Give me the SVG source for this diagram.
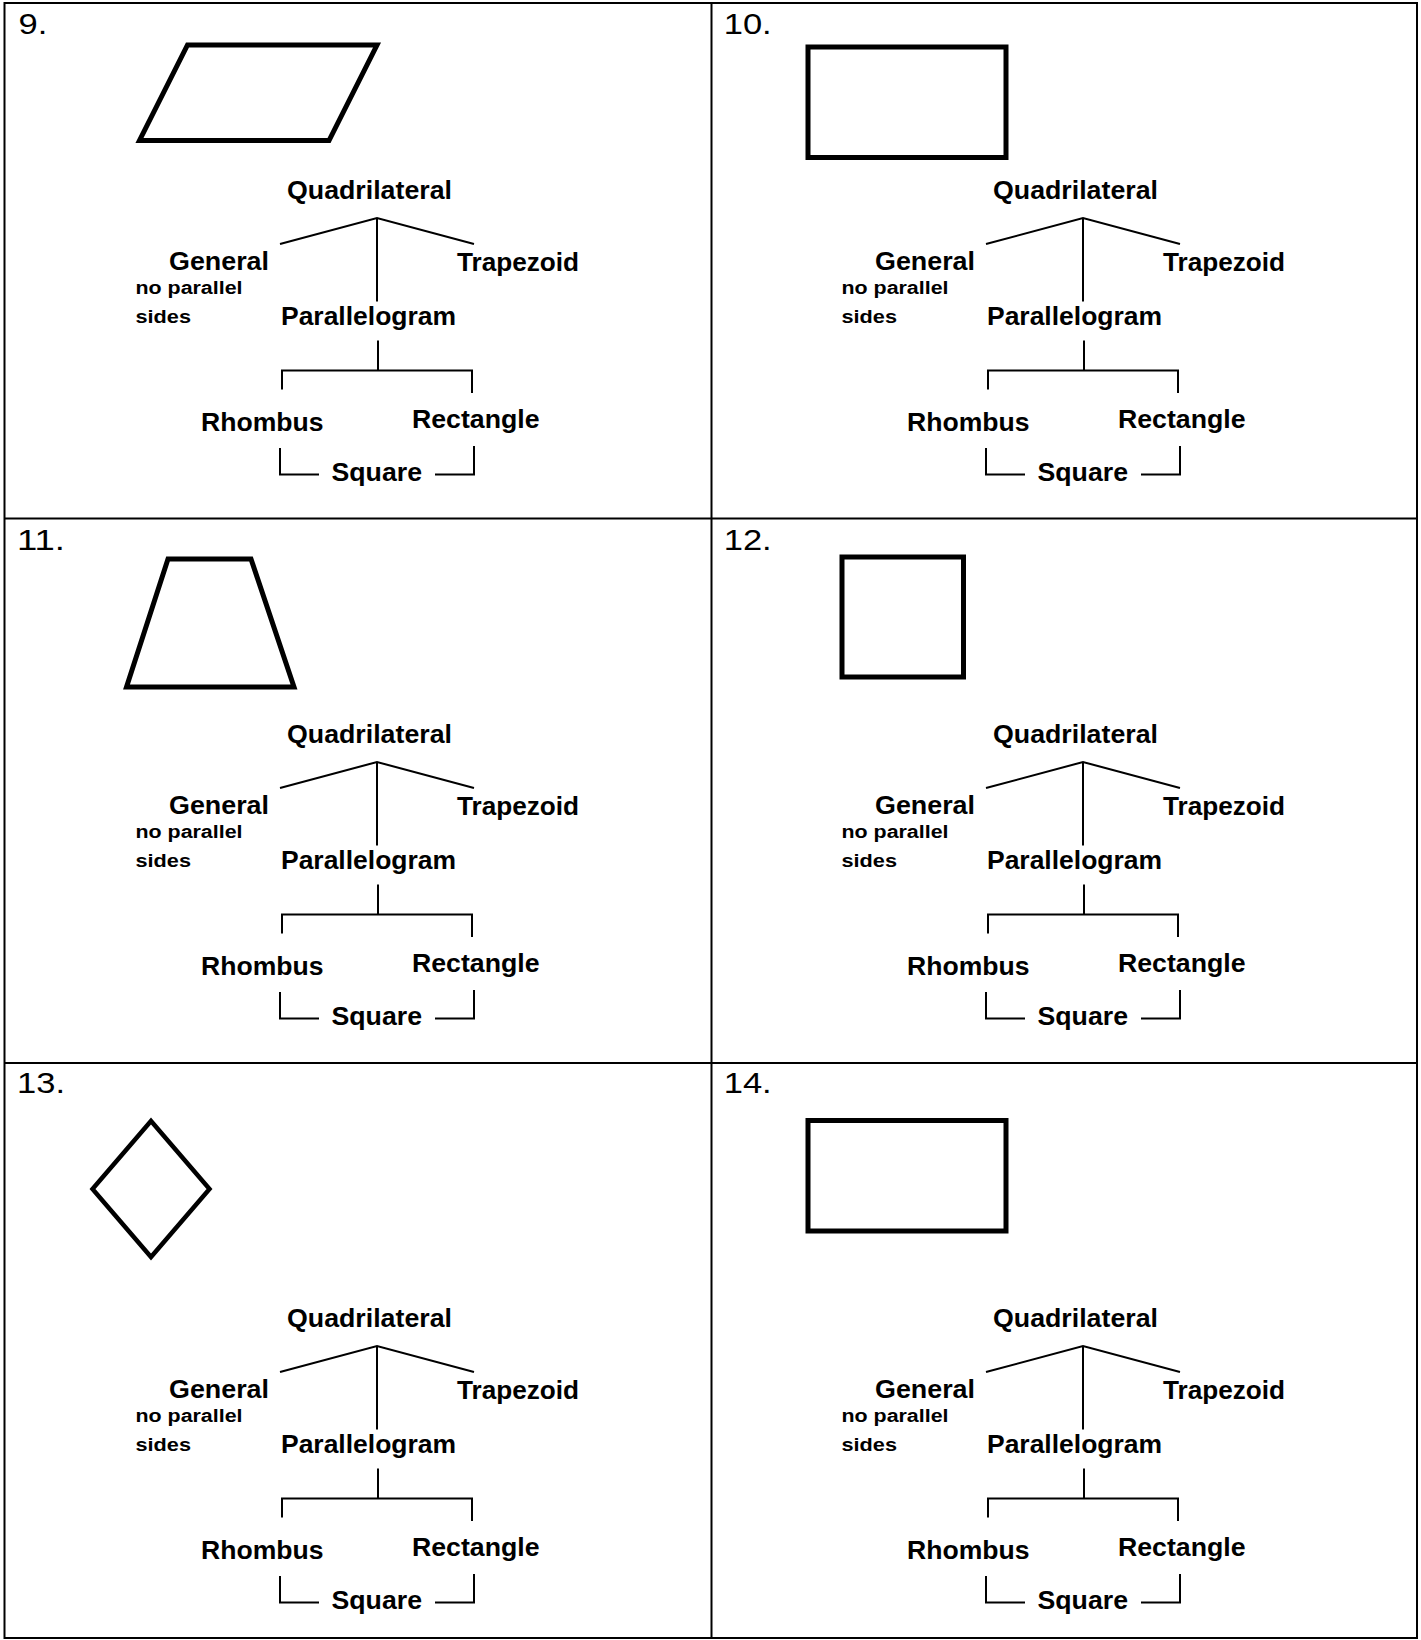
<svg xmlns="http://www.w3.org/2000/svg" width="1421" height="1640" viewBox="0 0 1421 1640">
<style>
.lbl{font-family:"Liberation Sans",Arial,sans-serif;font-weight:bold;font-size:25px;fill:#000}
.sm{font-size:18px}
.num{font-family:"Liberation Sans",Arial,sans-serif;font-size:30px;fill:#000}
.conn{fill:none;stroke:#000;stroke-width:2}
.shape{fill:none;stroke:#000;stroke-width:5;stroke-linejoin:miter}
.grid{fill:none;stroke:#000;stroke-width:2}
</style>
<rect width="1421" height="1640" fill="#fff"/>
<g id="grid" class="grid">
<rect x="4.5" y="3" width="1412.5" height="1635"/>
<path d="M711.5,3 V1638 M4.5,518.5 H1417 M4.5,1063 H1417"/>
</g>
<g id="numbers">
<text class="num" x="18.5" y="33.5" textLength="28.8" lengthAdjust="spacingAndGlyphs">9.</text>
<text class="num" x="723.7" y="33.5" textLength="48" lengthAdjust="spacingAndGlyphs">10.</text>
<text class="num" x="17" y="550" textLength="48" lengthAdjust="spacingAndGlyphs">11.</text>
<text class="num" x="723.7" y="550" textLength="48" lengthAdjust="spacingAndGlyphs">12.</text>
<text class="num" x="17" y="1093" textLength="48" lengthAdjust="spacingAndGlyphs">13.</text>
<text class="num" x="723.7" y="1093" textLength="48" lengthAdjust="spacingAndGlyphs">14.</text>
</g>
<g id="shapes" class="shape">
<polygon id="shape9" points="187.5,45 377,45 329,140.5 139.5,140.5"/>
<rect id="shape10" x="808" y="47" width="198" height="110.5"/>
<polygon id="shape11" points="168,559 251,559 294,687 126.5,687"/>
<rect id="shape12" x="842" y="557" width="121.5" height="120"/>
<polygon id="shape13" points="151,1121 209.5,1189 151,1257 92.5,1189" style="stroke-width:4.5"/>
<rect id="shape14" x="808" y="1120.5" width="198" height="110.5"/>
</g>

<g id="p9" transform="translate(0,0)">
<g id="p9-connectors" class="conn">
<path d="M280,244 L377,218 L474,244"/><path d="M377,218 V301.5"/><path d="M378,340.5 V370.5"/>
<path d="M282,389.5 V370.5 H472 V393"/><path d="M280,448 V474.5 H319"/><path d="M435,474.5 H474 V446"/>
</g>
<g id="p9-quadrilateral"><text class="lbl" x="287" y="199" textLength="165" lengthAdjust="spacingAndGlyphs">Quadrilateral</text></g>
<g id="p9-general"><text class="lbl" x="169" y="270" textLength="100" lengthAdjust="spacingAndGlyphs">General</text><text class="lbl sm" x="135.5" y="294" textLength="107" lengthAdjust="spacingAndGlyphs">no parallel</text><text class="lbl sm" x="135.5" y="323" textLength="55.5" lengthAdjust="spacingAndGlyphs">sides</text></g>
<g id="p9-trapezoid"><text class="lbl" x="457" y="271" textLength="122" lengthAdjust="spacingAndGlyphs">Trapezoid</text></g>
<g id="p9-parallelogram"><text class="lbl" x="281" y="325" textLength="175" lengthAdjust="spacingAndGlyphs">Parallelogram</text></g>
<g id="p9-rhombus"><text class="lbl" x="201" y="431" textLength="122.5" lengthAdjust="spacingAndGlyphs">Rhombus</text></g>
<g id="p9-rectangle"><text class="lbl" x="412" y="428" textLength="127.5" lengthAdjust="spacingAndGlyphs">Rectangle</text></g>
<g id="p9-square"><text class="lbl" x="331.5" y="480.5" textLength="90.5" lengthAdjust="spacingAndGlyphs">Square</text></g>
</g>

<g id="p10" transform="translate(706,0)">
<g id="p10-connectors" class="conn">
<path d="M280,244 L377,218 L474,244"/><path d="M377,218 V301.5"/><path d="M378,340.5 V370.5"/>
<path d="M282,389.5 V370.5 H472 V393"/><path d="M280,448 V474.5 H319"/><path d="M435,474.5 H474 V446"/>
</g>
<g id="p10-quadrilateral"><text class="lbl" x="287" y="199" textLength="165" lengthAdjust="spacingAndGlyphs">Quadrilateral</text></g>
<g id="p10-general"><text class="lbl" x="169" y="270" textLength="100" lengthAdjust="spacingAndGlyphs">General</text><text class="lbl sm" x="135.5" y="294" textLength="107" lengthAdjust="spacingAndGlyphs">no parallel</text><text class="lbl sm" x="135.5" y="323" textLength="55.5" lengthAdjust="spacingAndGlyphs">sides</text></g>
<g id="p10-trapezoid"><text class="lbl" x="457" y="271" textLength="122" lengthAdjust="spacingAndGlyphs">Trapezoid</text></g>
<g id="p10-parallelogram"><text class="lbl" x="281" y="325" textLength="175" lengthAdjust="spacingAndGlyphs">Parallelogram</text></g>
<g id="p10-rhombus"><text class="lbl" x="201" y="431" textLength="122.5" lengthAdjust="spacingAndGlyphs">Rhombus</text></g>
<g id="p10-rectangle"><text class="lbl" x="412" y="428" textLength="127.5" lengthAdjust="spacingAndGlyphs">Rectangle</text></g>
<g id="p10-square"><text class="lbl" x="331.5" y="480.5" textLength="90.5" lengthAdjust="spacingAndGlyphs">Square</text></g>
</g>

<g id="p11" transform="translate(0,544)">
<g id="p11-connectors" class="conn">
<path d="M280,244 L377,218 L474,244"/><path d="M377,218 V301.5"/><path d="M378,340.5 V370.5"/>
<path d="M282,389.5 V370.5 H472 V393"/><path d="M280,448 V474.5 H319"/><path d="M435,474.5 H474 V446"/>
</g>
<g id="p11-quadrilateral"><text class="lbl" x="287" y="199" textLength="165" lengthAdjust="spacingAndGlyphs">Quadrilateral</text></g>
<g id="p11-general"><text class="lbl" x="169" y="270" textLength="100" lengthAdjust="spacingAndGlyphs">General</text><text class="lbl sm" x="135.5" y="294" textLength="107" lengthAdjust="spacingAndGlyphs">no parallel</text><text class="lbl sm" x="135.5" y="323" textLength="55.5" lengthAdjust="spacingAndGlyphs">sides</text></g>
<g id="p11-trapezoid"><text class="lbl" x="457" y="271" textLength="122" lengthAdjust="spacingAndGlyphs">Trapezoid</text></g>
<g id="p11-parallelogram"><text class="lbl" x="281" y="325" textLength="175" lengthAdjust="spacingAndGlyphs">Parallelogram</text></g>
<g id="p11-rhombus"><text class="lbl" x="201" y="431" textLength="122.5" lengthAdjust="spacingAndGlyphs">Rhombus</text></g>
<g id="p11-rectangle"><text class="lbl" x="412" y="428" textLength="127.5" lengthAdjust="spacingAndGlyphs">Rectangle</text></g>
<g id="p11-square"><text class="lbl" x="331.5" y="480.5" textLength="90.5" lengthAdjust="spacingAndGlyphs">Square</text></g>
</g>

<g id="p12" transform="translate(706,544)">
<g id="p12-connectors" class="conn">
<path d="M280,244 L377,218 L474,244"/><path d="M377,218 V301.5"/><path d="M378,340.5 V370.5"/>
<path d="M282,389.5 V370.5 H472 V393"/><path d="M280,448 V474.5 H319"/><path d="M435,474.5 H474 V446"/>
</g>
<g id="p12-quadrilateral"><text class="lbl" x="287" y="199" textLength="165" lengthAdjust="spacingAndGlyphs">Quadrilateral</text></g>
<g id="p12-general"><text class="lbl" x="169" y="270" textLength="100" lengthAdjust="spacingAndGlyphs">General</text><text class="lbl sm" x="135.5" y="294" textLength="107" lengthAdjust="spacingAndGlyphs">no parallel</text><text class="lbl sm" x="135.5" y="323" textLength="55.5" lengthAdjust="spacingAndGlyphs">sides</text></g>
<g id="p12-trapezoid"><text class="lbl" x="457" y="271" textLength="122" lengthAdjust="spacingAndGlyphs">Trapezoid</text></g>
<g id="p12-parallelogram"><text class="lbl" x="281" y="325" textLength="175" lengthAdjust="spacingAndGlyphs">Parallelogram</text></g>
<g id="p12-rhombus"><text class="lbl" x="201" y="431" textLength="122.5" lengthAdjust="spacingAndGlyphs">Rhombus</text></g>
<g id="p12-rectangle"><text class="lbl" x="412" y="428" textLength="127.5" lengthAdjust="spacingAndGlyphs">Rectangle</text></g>
<g id="p12-square"><text class="lbl" x="331.5" y="480.5" textLength="90.5" lengthAdjust="spacingAndGlyphs">Square</text></g>
</g>

<g id="p13" transform="translate(0,1128)">
<g id="p13-connectors" class="conn">
<path d="M280,244 L377,218 L474,244"/><path d="M377,218 V301.5"/><path d="M378,340.5 V370.5"/>
<path d="M282,389.5 V370.5 H472 V393"/><path d="M280,448 V474.5 H319"/><path d="M435,474.5 H474 V446"/>
</g>
<g id="p13-quadrilateral"><text class="lbl" x="287" y="199" textLength="165" lengthAdjust="spacingAndGlyphs">Quadrilateral</text></g>
<g id="p13-general"><text class="lbl" x="169" y="270" textLength="100" lengthAdjust="spacingAndGlyphs">General</text><text class="lbl sm" x="135.5" y="294" textLength="107" lengthAdjust="spacingAndGlyphs">no parallel</text><text class="lbl sm" x="135.5" y="323" textLength="55.5" lengthAdjust="spacingAndGlyphs">sides</text></g>
<g id="p13-trapezoid"><text class="lbl" x="457" y="271" textLength="122" lengthAdjust="spacingAndGlyphs">Trapezoid</text></g>
<g id="p13-parallelogram"><text class="lbl" x="281" y="325" textLength="175" lengthAdjust="spacingAndGlyphs">Parallelogram</text></g>
<g id="p13-rhombus"><text class="lbl" x="201" y="431" textLength="122.5" lengthAdjust="spacingAndGlyphs">Rhombus</text></g>
<g id="p13-rectangle"><text class="lbl" x="412" y="428" textLength="127.5" lengthAdjust="spacingAndGlyphs">Rectangle</text></g>
<g id="p13-square"><text class="lbl" x="331.5" y="480.5" textLength="90.5" lengthAdjust="spacingAndGlyphs">Square</text></g>
</g>

<g id="p14" transform="translate(706,1128)">
<g id="p14-connectors" class="conn">
<path d="M280,244 L377,218 L474,244"/><path d="M377,218 V301.5"/><path d="M378,340.5 V370.5"/>
<path d="M282,389.5 V370.5 H472 V393"/><path d="M280,448 V474.5 H319"/><path d="M435,474.5 H474 V446"/>
</g>
<g id="p14-quadrilateral"><text class="lbl" x="287" y="199" textLength="165" lengthAdjust="spacingAndGlyphs">Quadrilateral</text></g>
<g id="p14-general"><text class="lbl" x="169" y="270" textLength="100" lengthAdjust="spacingAndGlyphs">General</text><text class="lbl sm" x="135.5" y="294" textLength="107" lengthAdjust="spacingAndGlyphs">no parallel</text><text class="lbl sm" x="135.5" y="323" textLength="55.5" lengthAdjust="spacingAndGlyphs">sides</text></g>
<g id="p14-trapezoid"><text class="lbl" x="457" y="271" textLength="122" lengthAdjust="spacingAndGlyphs">Trapezoid</text></g>
<g id="p14-parallelogram"><text class="lbl" x="281" y="325" textLength="175" lengthAdjust="spacingAndGlyphs">Parallelogram</text></g>
<g id="p14-rhombus"><text class="lbl" x="201" y="431" textLength="122.5" lengthAdjust="spacingAndGlyphs">Rhombus</text></g>
<g id="p14-rectangle"><text class="lbl" x="412" y="428" textLength="127.5" lengthAdjust="spacingAndGlyphs">Rectangle</text></g>
<g id="p14-square"><text class="lbl" x="331.5" y="480.5" textLength="90.5" lengthAdjust="spacingAndGlyphs">Square</text></g>
</g>
</svg>
